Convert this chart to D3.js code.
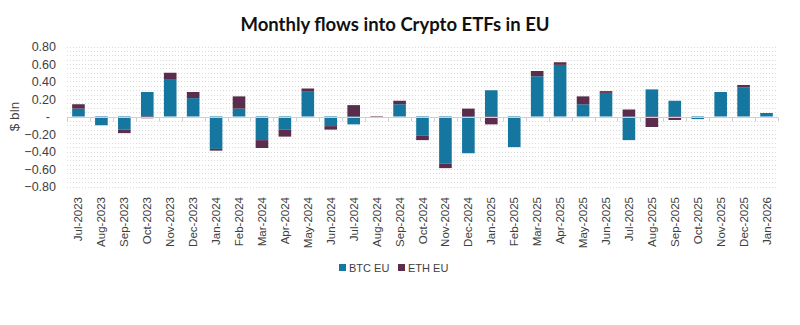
<!DOCTYPE html>
<html>
<head>
<meta charset="utf-8">
<script src="https://cdn.jsdelivr.net/npm/d3@7/dist/d3.min.js"></script>
<style>
  body { margin: 0; background: #fff; }
  text { font-family: "Liberation Sans", Arial, sans-serif; fill: #404040; }
</style>
</head>
<body>
<svg id="chart" width="800" height="325"></svg>
<script>
  // monthly flows, $ bln
  var months = ["Jul-2023","Aug-2023","Sep-2023","Oct-2023","Nov-2023","Dec-2023",
    "Jan-2024","Feb-2024","Mar-2024","Apr-2024","May-2024","Jun-2024","Jul-2024",
    "Aug-2024","Sep-2024","Oct-2024","Nov-2024","Dec-2024","Jan-2025","Feb-2025",
    "Mar-2025","Apr-2025","May-2025","Jun-2025","Jul-2025","Aug-2025","Sep-2025",
    "Oct-2025","Nov-2025","Dec-2025","Jan-2026"];
  var btcEU = [0.09,-0.10,-0.15,0.28,0.42,0.21,-0.37,0.09,-0.27,-0.15,0.29,-0.11,-0.09,
    0.00,0.14,-0.22,-0.54,-0.42,0.30,-0.35,0.46,0.59,0.14,0.27,-0.27,0.31,0.18,
    -0.03,0.28,0.33,0.04];
  var ethEU = [0.05,0.00,-0.04,-0.02,0.08,0.07,-0.02,0.14,-0.09,-0.08,0.03,-0.04,0.13,
    -0.01,0.04,-0.05,-0.05,0.09,-0.09,0.00,0.06,0.03,0.09,0.02,0.08,-0.12,-0.04,
    0.00,0.00,0.03,0.00];
  var yTicks = [0.8,0.6,0.4,0.2,0,-0.2,-0.4,-0.6,-0.8];

  var seriesNames = ["BTC EU", "ETH EU"];
  var colors = { "BTC EU": "#15779f", "ETH EU": "#5a2d4d" };

  var rows = months.map(function(m, i) {
    return { month: m, "BTC EU": btcEU[i], "ETH EU": ethEU[i] };
  });

  var svg = d3.select("#chart");
  var plotLeft = 67, plotRight = 778, plotTop = 46.5, plotBottom = 186.5;

  var x = d3.scaleBand().domain(months).range([plotLeft, plotRight]).paddingInner(0.45).paddingOuter(0.225);
  var y = d3.scaleLinear().domain([-0.8, 0.8]).range([plotBottom, plotTop]);

  // title
  svg.append("text")
    .attr("x", 395).attr("y", 31)
    .attr("text-anchor", "middle")
    .style("font-family", "Lato, 'Open Sans', sans-serif")
    .style("font-weight", "bold")
    .style("font-size", "18.5px")
    .style("fill", "#111")
    .text("Monthly flows into Crypto ETFs in EU");

  // dotted gridlines every 0.05
  var minor = d3.range(-16, 17).map(function(k) { return k * 0.05; });
  svg.append("g").selectAll("line")
    .data(minor)
    .enter().append("line")
    .attr("x1", plotLeft).attr("x2", plotRight)
    .attr("y1", function(d) { return Math.round(y(d)) + 0.5; })
    .attr("y2", function(d) { return Math.round(y(d)) + 0.5; })
    .attr("stroke", "#dcdcdc")
    .attr("stroke-width", 1)
    .attr("stroke-dasharray", "1,2");

  // y axis labels
  var yAxis = d3.axisLeft(y)
    .tickValues(yTicks)
    .tickSize(0)
    .tickPadding(0)
    .tickFormat(function(d) { return d === 0 ? "-" : d3.format(".2f")(d); });
  var gy = svg.append("g").attr("transform", "translate(56,0)").call(yAxis);
  gy.select(".domain").remove();
  gy.selectAll("text")
    .style("font-size", "12.5px")
    .style("fill", "#404040")
    .attr("dy", "0.35em");
  gy.selectAll(".tick").filter(function(d) { return d === 0; }).select("text")
    .attr("dx", "-6px");

  svg.append("text")
    .attr("transform", "translate(19," + y(0) + ") rotate(-90)")
    .attr("text-anchor", "middle")
    .style("font-size", "13.5px")
    .text("$ bln");

  // stacked bars, positives up and negatives down from zero
  var stacked = d3.stack().keys(seriesNames).offset(d3.stackOffsetDiverging)(rows);

  svg.append("g").selectAll("g")
    .data(stacked)
    .enter().append("g")
    .attr("fill", function(s) { return colors[s.key]; })
    .selectAll("rect")
    .data(function(s) { return s; })
    .enter().append("rect")
    .attr("x", function(d) { return x(d.data.month); })
    .attr("width", x.bandwidth())
    .attr("y", function(d) { return y(Math.max(d[0], d[1])); })
    .attr("height", function(d) { return Math.abs(y(d[0]) - y(d[1])); });

  // zero axis with category boundary ticks
  var zy = Math.round(y(0)) + 0.5;
  svg.append("line")
    .attr("x1", plotLeft).attr("x2", plotRight)
    .attr("y1", zy).attr("y2", zy)
    .attr("stroke", "#d0d0d0").attr("stroke-width", 1);
  var step = x.step();
  svg.append("g").selectAll("line")
    .data(d3.range(months.length + 1))
    .enter().append("line")
    .attr("x1", function(i) { return Math.round(plotLeft + i * step) + 0.5; })
    .attr("x2", function(i) { return Math.round(plotLeft + i * step) + 0.5; })
    .attr("y1", zy).attr("y2", zy + 4)
    .attr("stroke", "#d0d0d0");

  // month labels
  svg.append("g").selectAll("text")
    .data(months)
    .enter().append("text")
    .attr("transform", function(d) {
      return "translate(" + (x(d) + x.bandwidth() / 2 + 4) + ",197) rotate(-90)";
    })
    .attr("text-anchor", "end")
    .style("font-size", "11.5px")
    .text(function(d) { return d; });

  // legend
  var legend = svg.append("g").attr("transform", "translate(339,268)");
  var items = [{ name: "BTC EU", x: 0 }, { name: "ETH EU", x: 59 }];
  items.forEach(function(it) {
    legend.append("rect")
      .attr("x", it.x).attr("y", -4)
      .attr("width", 7).attr("height", 7)
      .attr("fill", colors[it.name]);
    legend.append("text")
      .attr("x", it.x + 10).attr("y", 0)
      .attr("dy", "0.35em")
      .style("font-size", "11px")
      .text(it.name);
  });
</script>
</body>
</html>
